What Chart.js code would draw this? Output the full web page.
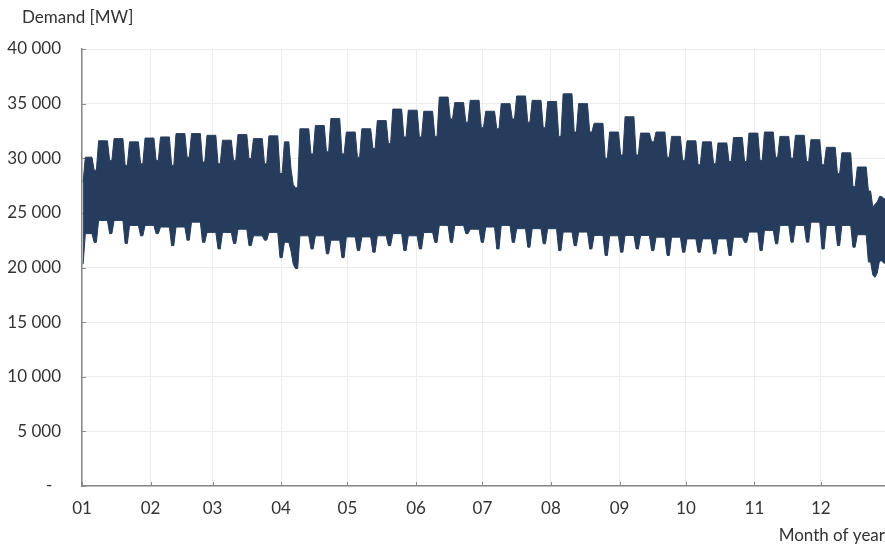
<!DOCTYPE html>
<html>
<head>
<meta charset="utf-8">
<title>Demand</title>
<script src="https://cdn.jsdelivr.net/npm/chart.js@4.4.1/dist/chart.umd.min.js"></script>
<style>
    html, body { margin: 0; padding: 0; background: #ffffff; }
    #contenedor { position: relative; width: 885px; height: 546px; }
    #titulo-y {
        position: absolute; left: 22px; top: 6px;
        font: 17px Lato, "Open Sans", sans-serif; color: #333333;
        white-space: nowrap;
    }
</style>
</head>
<body>
<div id="contenedor">
    <canvas id="grafico-demanda"></canvas>
    <div id="titulo-y">Demand [MW]</div>
</div>
<script>
// Month axis
const monthLabels = ['01', '02', '03', '04', '05', '06', '07', '08', '09', '10', '11', '12'];
const monthStartDay = [0, 31, 59, 90, 120, 151, 181, 212, 243, 273, 304, 334];

// Weekly readings (MW), week 0 starts on day 0 (a Monday)
const weekdayPeak = [
    30100, 31600, 31800, 31500, 31850, 31950, 32260, 32260, 32100, 31650,
    32170, 31800, 32050, 31500, 32700, 33000, 33640, 32400, 32700, 33450,
    34500, 34400, 34300, 35600, 35100, 35300, 34300, 35000, 35700, 35300,
    35200, 35900, 35000, 33200, 32400, 33800, 32300, 32400, 32000, 31600,
    31500, 31400, 31900, 32300, 32400, 32000, 32100, 31700, 31000, 30500,
    29200, 26500
];
const weekendPeak = [
    28900, 29800, 29350, 29500, 29800, 29350, 30100, 29650, 29500, 29800,
    29970, 29500, 28600, 27300, 30400, 30600, 30400, 30100, 30900, 31350,
    31950, 31950, 32000, 33600, 33300, 32800, 32700, 33600, 33300, 32800,
    32000, 32400, 32400, 30000, 30300, 30300, 31500, 30100, 29800, 29400,
    29500, 29700, 29700, 29800, 30100, 30000, 29700, 29400, 28600, 27400,
    27000, 26300
];
const weekdayLow = [
    23100, 24300, 24300, 23850, 23850, 23700, 23700, 24150, 23200, 23200,
    23500, 22900, 23200, 22300, 22900, 22900, 22500, 22800, 22800, 22900,
    23100, 22900, 23200, 23850, 23850, 23500, 23700, 23850, 23550, 23550,
    23550, 23240, 23240, 22930, 22900, 22930, 22930, 22770, 22770, 22620,
    22620, 22620, 22770, 23240, 23390, 23850, 23850, 24150, 23850, 23850,
    23000, 20600
];
const weekendLow = [
    22300, 23100, 22200, 22900, 23100, 22000, 22500, 22300, 21700, 22200,
    22000, 22500, 20900, 19900, 21700, 21250, 20900, 21550, 21400, 22000,
    21550, 21700, 22300, 22300, 23100, 22300, 21700, 22300, 21860, 22170,
    21550, 22000, 21700, 21100, 21400, 21700, 21550, 21100, 21400, 21400,
    21250, 21100, 22300, 21550, 22170, 22320, 22320, 21700, 22010, 21860,
    20500, 20400
];

// Holidays (day of year) with their own peak / low
const holidays = [0, 94, 95, 357, 358, 359];
const holidayPeak = [27800, 29000, 27600, 25500, 25800, 26000];
const holidayLow = [20300, 21500, 20300, 19300, 19100, 19500];

const COLOR_SERIE = '#263c5c';
const COLOR_TEXTO = '#333333';
const COLOR_EJE = '#8a8a8a';
const FUENTE = 'Lato, "Open Sans", sans-serif';

// Daily top / bottom of the hourly band, built from the readings above
const puntosMax = [];
const puntosMin = [];
for (let d = 0; d < 365; d++) {
    const w = Math.min(Math.floor(d / 7), weekdayPeak.length - 1);
    const finde = d % 7 >= 5;
    let alto = finde ? weekendPeak[w] : weekdayPeak[w];
    let bajo = finde ? weekendLow[w] : weekdayLow[w];
    const h = holidays.indexOf(d);
    if (h >= 0) {
        alto = holidayPeak[h];
        bajo = holidayLow[h];
    }
    puntosMax.push({ x: d + 0.5, y: alto });
    puntosMin.push({ x: d + 0.5, y: bajo });
}

function formatoMiles(v) {
    if (v === 0) return '-  ';
    return String(v).replace(/\B(?=(\d{3})+(?!\d))/g, ' ');
}

// small tick marks drawn inside the plot, like the original
const marcasInternas = {
    id: 'marcasInternas',
    beforeDatasetsDraw(chart) {
        const { ctx, chartArea, scales } = chart;
        ctx.save();
        ctx.strokeStyle = COLOR_EJE;
        ctx.lineWidth = 1;
        scales.y.ticks.forEach(t => {
            const py = Math.round(scales.y.getPixelForValue(t.value)) + 0.5;
            ctx.beginPath();
            ctx.moveTo(chartArea.left, py);
            ctx.lineTo(chartArea.left + 4, py);
            ctx.stroke();
        });
        scales.x.ticks.forEach(t => {
            const px = Math.round(scales.x.getPixelForValue(t.value)) + 0.5;
            ctx.beginPath();
            ctx.moveTo(px, chartArea.bottom);
            ctx.lineTo(px, chartArea.bottom - 4);
            ctx.stroke();
        });
        ctx.restore();
    }
};

const ctx = document.getElementById('grafico-demanda').getContext('2d');
new Chart(ctx, {
    type: 'line',
    data: {
        datasets: [
            {
                label: 'Daily max',
                data: puntosMax,
                borderColor: COLOR_SERIE,
                backgroundColor: COLOR_SERIE,
                borderWidth: 1,
                pointRadius: 0,
                tension: 0,
                fill: '+1'
            },
            {
                label: 'Daily min',
                data: puntosMin,
                borderColor: COLOR_SERIE,
                backgroundColor: COLOR_SERIE,
                borderWidth: 1,
                pointRadius: 0,
                tension: 0,
                fill: false
            }
        ]
    },
    options: {
        responsive: true,
        maintainAspectRatio: false,
        animation: false,
        layout: { padding: { left: 0, top: 49, right: 0, bottom: 0 } },
        plugins: {
            legend: { display: false },
            tooltip: { enabled: false },
            title: { display: false }
        },
        scales: {
            x: {
                type: 'linear',
                min: 0,
                max: 363,
                afterBuildTicks: scale => {
                    scale.ticks = monthStartDay.map(v => ({ value: v }));
                },
                afterFit: scale => { scale.height = 60; },
                ticks: {
                    autoSkip: false,
                    maxRotation: 0,
                    padding: 12,
                    color: COLOR_TEXTO,
                    font: { family: FUENTE, size: 17 },
                    callback: (v, i) => monthLabels[i]
                },
                grid: { color: '#ececec', lineWidth: 1, drawTicks: false },
                border: { color: COLOR_EJE, width: 1.5 },
                title: {
                    display: true,
                    text: 'Month of year',
                    align: 'end',
                    color: COLOR_TEXTO,
                    font: { family: FUENTE, size: 17 },
                    padding: { top: 0, bottom: 0 }
                }
            },
            y: {
                min: 0,
                max: 40000,
                afterFit: scale => { scale.width = 82; },
                ticks: {
                    stepSize: 5000,
                    padding: 21,
                    color: COLOR_TEXTO,
                    font: { family: FUENTE, size: 17 },
                    callback: v => formatoMiles(v)
                },
                grid: { color: '#ececec', lineWidth: 1, drawTicks: false },
                border: { color: COLOR_EJE, width: 1.5 }
            }
        }
    },
    plugins: [marcasInternas]
});
</script>
</body>
</html>
